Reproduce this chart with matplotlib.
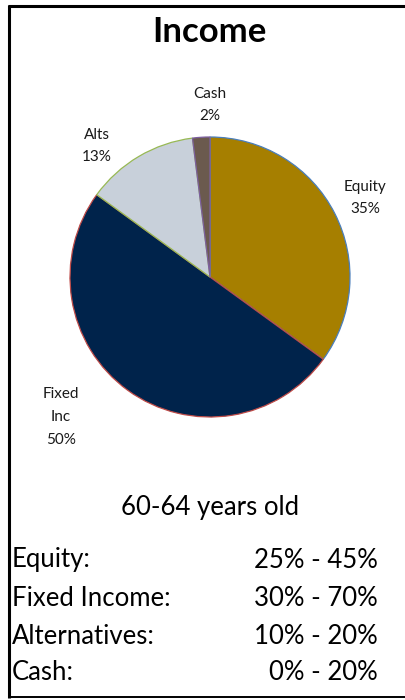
import matplotlib
matplotlib.use("Agg")
import matplotlib.pyplot as plt
from matplotlib.lines import Line2D

plt.rcParams['font.family'] = ['Lato', 'DejaVu Sans']

# Allocation data
categories = ["Equity", "Fixed\nInc", "Alts", "Cash"]
shares = [35, 50, 13, 2]
title = "Income"
age_band = "60-64 years old"
range_labels = ["Equity:", "Fixed Income:", "Alternatives:", "Cash:"]
range_low = [25, 30, 10, 0]
range_high = [45, 70, 20, 20]

# Styling
face_colors = ["#A67F00", "#00234B", "#C8D0DA", "#6B5A4E"]
edge_colors = ["#4A7EBB", "#BE4B48", "#98B954", "#7D60A0"]
label_offsets = [(1.107, 0.564), (-1.064, -1.0), (-0.807, 0.936), (0.0, 1.229)]

W, H = 406, 700
fig = plt.figure(figsize=(W / 100, H / 100), dpi=100)
fig.patch.set_facecolor("white")

def fx(px):
    return px / W

def fy(py):
    return 1 - py / H

# Pie axes: centre (210, 277) px, radius 140 px
cx, cy, r = 210, 277, 140
ax = fig.add_axes([fx(cx - r), fy(cy + r), 2 * r / W, 2 * r / H])
wedges, _ = ax.pie(shares, colors=face_colors, startangle=90, counterclock=False,
                   radius=1.0, wedgeprops=dict(linewidth=0.9))
for w, ec in zip(wedges, edge_colors):
    w.set_edgecolor(ec)
ax.set_xlim(-1.0, 1.0)
ax.set_ylim(-1.0, 1.0)
ax.set_aspect("equal")
ax.axis("off")

for cat, val, (lx, ly) in zip(categories, shares, label_offsets):
    ax.text(lx, ly, f"{cat}\n{val}%", ha="center", va="center", fontsize=11,
            color="#1a1a1a", linespacing=1.8, clip_on=False)

# Title and text block
fig.text(fx(209), fy(32), title, ha="center", va="center", fontsize=25,
         fontweight="bold", color="black")
fig.text(fx(210), fy(507), age_band, ha="center", va="center", fontsize=18.5,
         color="black")
row_y = [560, 598, 636, 673]
for lab, lo, hi, y in zip(range_labels, range_low, range_high, row_y):
    fig.text(fx(12), fy(y), lab, ha="left", va="center", fontsize=18.5, color="black")
    fig.text(fx(378), fy(y), f"{lo}% - {hi}%", ha="right", va="center",
             fontsize=18.5, color="black")

# Frame lines
fig.add_artist(Line2D([fx(9), fx(9)], [fy(5), fy(698)], transform=fig.transFigure,
                      color="black", linewidth=2.2, solid_capstyle="butt"))
fig.add_artist(Line2D([fx(8), fx(406)], [fy(6), fy(6)], transform=fig.transFigure,
                      color="black", linewidth=2.2, solid_capstyle="butt"))
fig.add_artist(Line2D([fx(8), fx(406)], [fy(697), fy(697)], transform=fig.transFigure,
                      color="black", linewidth=1.4, solid_capstyle="butt"))

fig.savefig("out.png", dpi=100, facecolor="white")
